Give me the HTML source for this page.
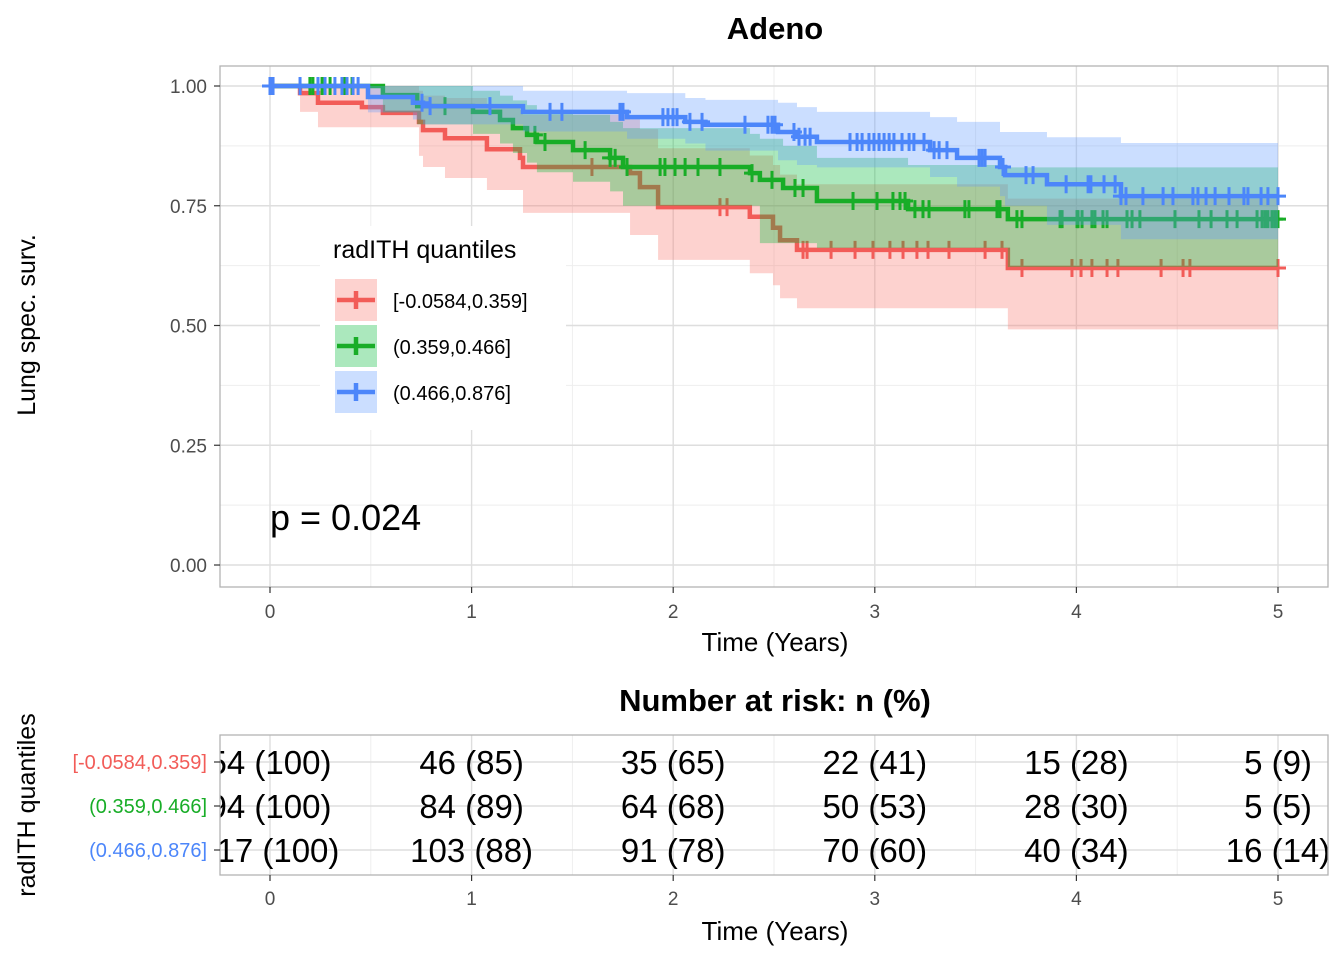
<!DOCTYPE html>
<html><head><meta charset="utf-8"><style>
html,body{margin:0;padding:0;background:#fff;}
svg{display:block;font-family:"Liberation Sans",Arial,sans-serif;}
</style></head><body>
<svg id="chart" width="1344" height="960" viewBox="0 0 1344 960">
<defs>
<clipPath id="pclip"><rect x="220" y="66" width="1108" height="521"/></clipPath>
<clipPath id="rclip"><rect x="220" y="735" width="1108" height="140"/></clipPath>
</defs>
<text x="775" y="39" text-anchor="middle" font-size="31" font-weight="bold" fill="#000">Adeno</text>
<rect x="220" y="66" width="1108" height="521" fill="#fff"/>
<g id="grid"></g>
<g id="series" clip-path="url(#pclip)"></g>
<rect x="220" y="66" width="1108" height="521" fill="none" stroke="#b3b3b3" stroke-width="1.3"/>
<g id="axes"></g>
<text x="35" y="325" transform="rotate(-90 35 325)" text-anchor="middle" font-size="25" fill="#000">Lung spec. surv.</text>
<text x="775" y="651" text-anchor="middle" font-size="26" fill="#000">Time (Years)</text>
<text x="270" y="530" font-size="36" fill="#000">p = 0.024</text>
<g id="legend">
<rect x="320" y="226" width="246" height="204" fill="#fff"/>
<text x="333" y="258" font-size="25" fill="#000">radITH quantiles</text>
</g>
<text x="775" y="711" text-anchor="middle" font-size="31" font-weight="bold" fill="#000">Number at risk: n (%)</text>
<rect x="220" y="735" width="1108" height="140" fill="#fff"/>
<g id="rgrid"></g>
<g id="risk" clip-path="url(#rclip)"></g>
<rect x="220" y="735" width="1108" height="140" fill="none" stroke="#b3b3b3" stroke-width="1.3"/>
<g id="raxes"></g>
<text x="35" y="805" transform="rotate(-90 35 805)" text-anchor="middle" font-size="25" fill="#000">radITH quantiles</text>
<text x="775" y="940" text-anchor="middle" font-size="26" fill="#000">Time (Years)</text>
</svg>
<script>
const groupNames = ["[-0.0584,0.359]", "(0.359,0.466]", "(0.466,0.876]"];
const groupColors = ["#F25C58", "#18AD27", "#4C86FA"];
const bandColors = ["#F8766D", "#00BA38", "#619CFF"];
const xTicks = [0, 1, 2, 3, 4, 5];
const yTicks = [0, 0.25, 0.5, 0.75, 1];
const yTickLabels = ["0.00", "0.25", "0.50", "0.75", "1.00"];

const redTimes = [0, .149, .238, .456, .56, .739, .759, .868, 1.076, 1.24, 1.255, 1.786, 1.835, 1.925, 2.38, 2.495, 2.53, 2.614, 3.66];
const redSurv = [1, .985, .965, .956, .944, .925, .908, .891, .868, .850, .831, .818, .789, .747, .727, .704, .678, .658, .62];
const redLower = [1, .946, .914, .914, .914, .854, .831, .808, .783, .783, .735, .689, .689, .637, .609, .584, .557, .536, .492];
const redUpper = [1, 1, 1, 1, 1, .99, .98, .975, .96, .95, .94, .93, .91, .87, .855, .835, .815, .795, .765];
const redCensor = [.015, 1.597, 2.232, 2.267, 2.644, 2.664, 2.783, 2.902, 2.991, 3.075, 3.14, 3.209, 3.264, 3.368, 3.547, 3.631, 3.73, 3.978, 4.023, 4.077, 4.152, 4.206, 4.42, 4.529, 4.563, 5.0];

const greenTimes = [0, .56, .73, 1.007, 1.141, 1.205, 1.275, 1.324, 1.503, 1.687, 1.751, 2.381, 2.43, 2.545, 2.713, 3.165, 3.66];
const greenSurv = [1, .981, .958, .946, .929, .912, .898, .883, .866, .85, .831, .818, .804, .787, .760, .743, .722];
const greenLower = [1, .945, .92, .9, .88, .86, .84, .82, .80, .78, .75, .75, .672, .672, .662, .662, .622];
const greenUpper = [1, 1, 1, .99, .98, .97, .96, .95, .94, .925, .912, .90, .89, .875, .85, .835, .83];
const greenCensor = [.198, .213, .238, .258, .298, .372, .407, .868, 1.314, 1.364, 1.563, 1.687, 1.712, 1.771, 1.935, 1.959, 2.009, 2.059, 2.123, 2.232, 2.391, 2.49, 2.604, 2.644, 2.892, 3.011, 3.09, 3.125, 3.15, 3.199, 3.239, 3.269, 3.447, 3.467, 3.606, 3.621, 3.705, 3.73, 3.919, 3.929, 4.003, 4.008, 4.028, 4.077, 4.092, 4.132, 4.152, 4.251, 4.276, 4.315, 4.489, 4.608, 4.668, 4.747, 4.797, 4.896, 4.921, 4.936, 4.95, 4.97, 4.985, 5.0];

const blueTimes = [0, .486, .709, .759, 1.255, 1.771, 2.06, 2.16, 2.52, 2.614, 2.713, 3.274, 3.408, 3.621, 3.646, 3.854, 4.221];
const blueSurv = [1, .977, .965, .958, .946, .935, .925, .919, .904, .894, .883, .866, .850, .831, .814, .795, .770];
const blueLower = [1, .945, .93, .92, .905, .89, .88, .865, .845, .835, .83, .81, .79, .77, .75, .71, .68];
const blueUpper = [1, 1, 1, 1, .99, .985, .975, .971, .965, .956, .946, .935, .925, .904, .904, .893, .881];
const blueCensor = [0, .015, .149, .238, .273, .322, .357, .382, .412, .437, .754, .794, 1.091, 1.389, 1.448, 1.736, 1.751, 1.949, 1.974, 1.999, 2.019, 2.083, 2.143, 2.356, 2.47, 2.49, 2.505, 2.599, 2.624, 2.654, 2.679, 2.877, 2.912, 2.937, 2.971, 2.996, 3.021, 3.046, 3.071, 3.095, 3.135, 3.17, 3.194, 3.244, 3.294, 3.319, 3.358, 3.517, 3.532, 3.547, 3.636, 3.75, 3.785, 3.949, 4.058, 4.072, 4.137, 4.192, 4.221, 4.246, 4.33, 4.43, 4.479, 4.578, 4.603, 4.643, 4.688, 4.757, 4.831, 4.851, 4.916, 4.95, 5.0];

const endTime = 5.0;
const riskTimes = [0, 1, 2, 3, 4, 5];
const riskRed = ["54 (100)", "46 (85)", "35 (65)", "22 (41)", "15 (28)", "5 (9)"];
const riskGreen = ["94 (100)", "84 (89)", "64 (68)", "50 (53)", "28 (30)", "5 (5)"];
const riskBlue = ["117 (100)", "103 (88)", "91 (78)", "70 (60)", "40 (34)", "16 (14)"];

const NS = "http://www.w3.org/2000/svg";
const X = t => 270 + t * 201.6;
const Y = v => 565 - v * 479;
function mk(tag, attrs, parent) {
  const e = document.createElementNS(NS, tag);
  for (const k in attrs) e.setAttribute(k, attrs[k]);
  parent.appendChild(e);
  return e;
}
const grid = document.getElementById("grid");
const axes = document.getElementById("axes");
for (let i = 0; i < 5; i++) {
  const t = 0.5 + i;
  const l = mk("line", {x1: X(t), x2: X(t), y1: 66, y2: 587, stroke: "#eeeeee", "stroke-width": 1}, grid);
  
  
}
for (let i = 0; i < 4; i++) {
  const v = 0.125 + i * 0.25;
  const l = mk("line", {x1: 220, x2: 1328, y1: Y(v), y2: Y(v), stroke: "#eeeeee", "stroke-width": 1}, grid);
  
  
}
xTicks.forEach(t => {
  const l = mk("line", {x1: X(t), x2: X(t), y1: 66, y2: 587, stroke: "#dedede", "stroke-width": 1.4}, grid);
  
  
  const tk = mk("line", {x1: X(t), x2: X(t), y1: 587, y2: 593, stroke: "#333", "stroke-width": 1.2}, axes);
  
  
  const tx = mk("text", {x: X(t), y: 618, "text-anchor": "middle", "font-size": 19, fill: "#4d4d4d"}, axes);
  tx.textContent = t;
  
  
});
yTicks.forEach((v, i) => {
  const l = mk("line", {x1: 220, x2: 1328, y1: Y(v), y2: Y(v), stroke: "#dedede", "stroke-width": 1.4}, grid);
  
  
  const tk = mk("line", {x1: 214, x2: 220, y1: Y(v), y2: Y(v), stroke: "#333", "stroke-width": 1.2}, axes);
  
  
  const tx = mk("text", {x: 207, y: Y(v) + 7, "text-anchor": "end", "font-size": 19, fill: "#4d4d4d"}, axes);
  tx.textContent = yTickLabels[i];
  
  
});

function stepPath(times, vals) {
  let d = "M" + X(times[0]) + "," + Y(vals[0]);
  for (let i = 1; i < times.length; i++) {
    d += "H" + X(times[i]) + "V" + Y(vals[i]);
  }
  d += "H" + X(endTime);
  return d;
}
function bandPath(times, lo, hi) {
  let d = "M" + X(times[0]) + "," + Y(hi[0]);
  for (let i = 1; i < times.length; i++) d += "H" + X(times[i]) + "V" + Y(hi[i]);
  d += "H" + X(endTime) + "V" + Y(lo[lo.length - 1]);
  for (let i = times.length - 1; i >= 1; i--) d += "H" + X(times[i]) + "V" + Y(lo[i - 1]);
  d += "H" + X(times[0]) + "Z";
  return d;
}
function survAt(times, vals, t) {
  let v = vals[0];
  for (let i = 0; i < times.length; i++) if (times[i] <= t) v = vals[i];
  return v;
}
const series = document.getElementById("series");
const groups = [
  [redTimes, redSurv, redLower, redUpper, redCensor],
  [greenTimes, greenSurv, greenLower, greenUpper, greenCensor],
  [blueTimes, blueSurv, blueLower, blueUpper, blueCensor]
];
groups.forEach((g, gi) => {
  const col = groupColors[gi];
  const band = mk("path", {d: bandPath(g[0], g[2], g[3]), fill: bandColors[gi], "fill-opacity": 0.33, stroke: "none"}, series);
  
  
  const line = mk("path", {d: stepPath(g[0], g[1]), fill: "none", stroke: col, "stroke-width": 4.5}, series);
  
  
  g[4].forEach(t => {
    const cx = X(t), cy = Y(survAt(g[0], g[1], t));
    const c = mk("path", {d: `M${cx - 8},${cy}H${cx + 8}M${cx},${cy - 9}V${cy + 9}`, stroke: col, "stroke-width": 3, fill: "none"}, series);
    
    
  });
});

const legend = document.getElementById("legend");
groupNames.forEach((n, i) => {
  const y0 = 279 + i * 46;
  const col = groupColors[i];
  const r = mk("rect", {x: 335, y: y0, width: 42, height: 42, fill: bandColors[i], "fill-opacity": 0.33}, legend);
  
  
  const p = mk("path", {d: `M337,${y0 + 21}H375M356,${y0 + 12}V${y0 + 30}`, stroke: col, "stroke-width": 4.5, fill: "none"}, legend);
  
  
  const t = mk("text", {x: 393, y: y0 + 29, "font-size": 20, fill: "#000"}, legend);
  t.textContent = n;
  
  
});

const rgrid = document.getElementById("rgrid");
const raxes = document.getElementById("raxes");
const risk = document.getElementById("risk");
const rowY = [762, 806, 850];
for (let i = 0; i < 5; i++) {
  const t = 0.5 + i;
  const l = mk("line", {x1: X(t), x2: X(t), y1: 735, y2: 875, stroke: "#eeeeee", "stroke-width": 1}, rgrid);
  
  
}
riskTimes.forEach(t => {
  const l = mk("line", {x1: X(t), x2: X(t), y1: 735, y2: 875, stroke: "#dedede", "stroke-width": 1.4}, rgrid);
  
  
  const tk = mk("line", {x1: X(t), x2: X(t), y1: 875, y2: 881, stroke: "#333", "stroke-width": 1.2}, raxes);
  
  
  const tx = mk("text", {x: X(t), y: 905, "text-anchor": "middle", "font-size": 19, fill: "#4d4d4d"}, raxes);
  tx.textContent = t;
  
  
});
[riskRed, riskGreen, riskBlue].forEach((row, ri) => {
  const y = rowY[ri];
  const l = mk("line", {x1: 220, x2: 1328, y1: y, y2: y, stroke: "#dedede", "stroke-width": 1.4}, rgrid);
  
  
  const tk = mk("line", {x1: 214, x2: 220, y1: y, y2: y, stroke: "#333", "stroke-width": 1.2}, raxes);
  
  
  const lab = mk("text", {x: 207, y: y + 7, "text-anchor": "end", "font-size": 20, fill: groupColors[ri]}, raxes);
  lab.textContent = groupNames[ri];
  
  
  row.forEach((s, i) => {
    const tx = mk("text", {x: X(riskTimes[i]), y: y + 12, "text-anchor": "middle", "font-size": 33, fill: "#000"}, risk);
    tx.textContent = s;
    
    
  });
});
</script>
</body></html>
